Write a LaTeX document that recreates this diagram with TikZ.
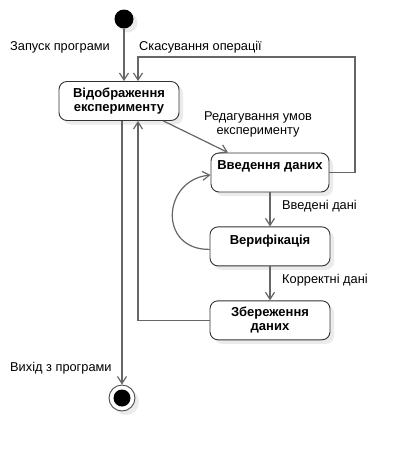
\documentclass[tikz,border=0pt]{standalone}
\usepackage{fontspec}
\setmainfont{Liberation Sans}
\usetikzlibrary{positioning, arrows.meta, shadows}

\begin{document}
\begin{tikzpicture}[
      x=1pt, y=-1pt,
      node distance=34pt,
      every node/.style={font=\fontsize{12.8}{14}\selectfont},
      state/.style={
        draw=black!80,
        line width=0.9pt,
        rounded corners=8pt,
        fill=white,
        minimum width=120pt,
        minimum height=39pt,
        align=center,
        font=\fontsize{13}{14}\selectfont\bfseries,
        drop shadow={shadow xshift=4pt, shadow yshift=-4pt, fill=black!8, opacity=1}
      },
      conn/.style={
        draw=black!60,
        line width=1.2pt,
        -{Straight Barb[length=7pt,width=9pt]}
      },
      lbl/.style={anchor=west, inner sep=0pt}
    ]

    \useasboundingbox (0,0) rectangle (407,451);

    % initial and final states
    \node[circle, fill=black, minimum size=19pt, inner sep=0pt,
      drop shadow={shadow xshift=4pt, shadow yshift=-4pt, fill=black!8, opacity=1}]
      (start) at (124,19) {};

    \node[circle, draw=black!70, line width=0.9pt, fill=white,
      minimum size=26pt, inner sep=0pt,
      drop shadow={shadow xshift=4pt, shadow yshift=-4pt, fill=black!8, opacity=1}]
      (end) at (122,398) {};
    \fill (end.center) circle (8.5pt);

    % states
    \node[state] (disp) at (119,101) {Відображення\\експерименту};

    \node[state, minimum width=118pt] (vvod) at (270,172.5) {Введення даних\\~};

    \node[state, below=of vvod] (verif) {Верифікація\\~};

    \node[state, below=of verif] (save) {Збереження\\даних};

    \coordinate (cancel) at (355,57);

    % transitions
    \draw[conn] (start) -- (start |- disp.north);

    \draw[conn] (vvod.east) -| (cancel) -| ([xshift=19pt]disp.north);

    \draw[conn] ([xshift=-16pt]disp.south east) -- ([xshift=-42pt]vvod.north);

    \draw[conn] (vvod) -- (verif);

    \draw[conn] ([yshift=-3pt]verif.west)
      .. controls (158,250) and (162,180) ..
      ([yshift=-2.5pt]vvod.west);

    \draw[conn] (verif) -- (save);

    \draw[conn] (save.west) -| ([xshift=19pt]disp.south);

    \draw[conn] ([xshift=3pt]disp.south) -- (end);

    % labels
    \node[lbl] (runlbl) at (10,47) {Запуск програми};
    \node[lbl] (cancellbl) at (139,47) {Скасування операції};
    \node[align=center, inner sep=0pt] (editlbl) at (258,124) {Редагування умов\\експерименту};
    \node[lbl] (inlbl) at (282,206) {Введені дані};
    \node[lbl] (oklbl) at (282,280) {Корректні дані};
    \node[lbl] (exitlbl) at (10,368) {Вихід з програми};

    \end{tikzpicture}
\end{document}
